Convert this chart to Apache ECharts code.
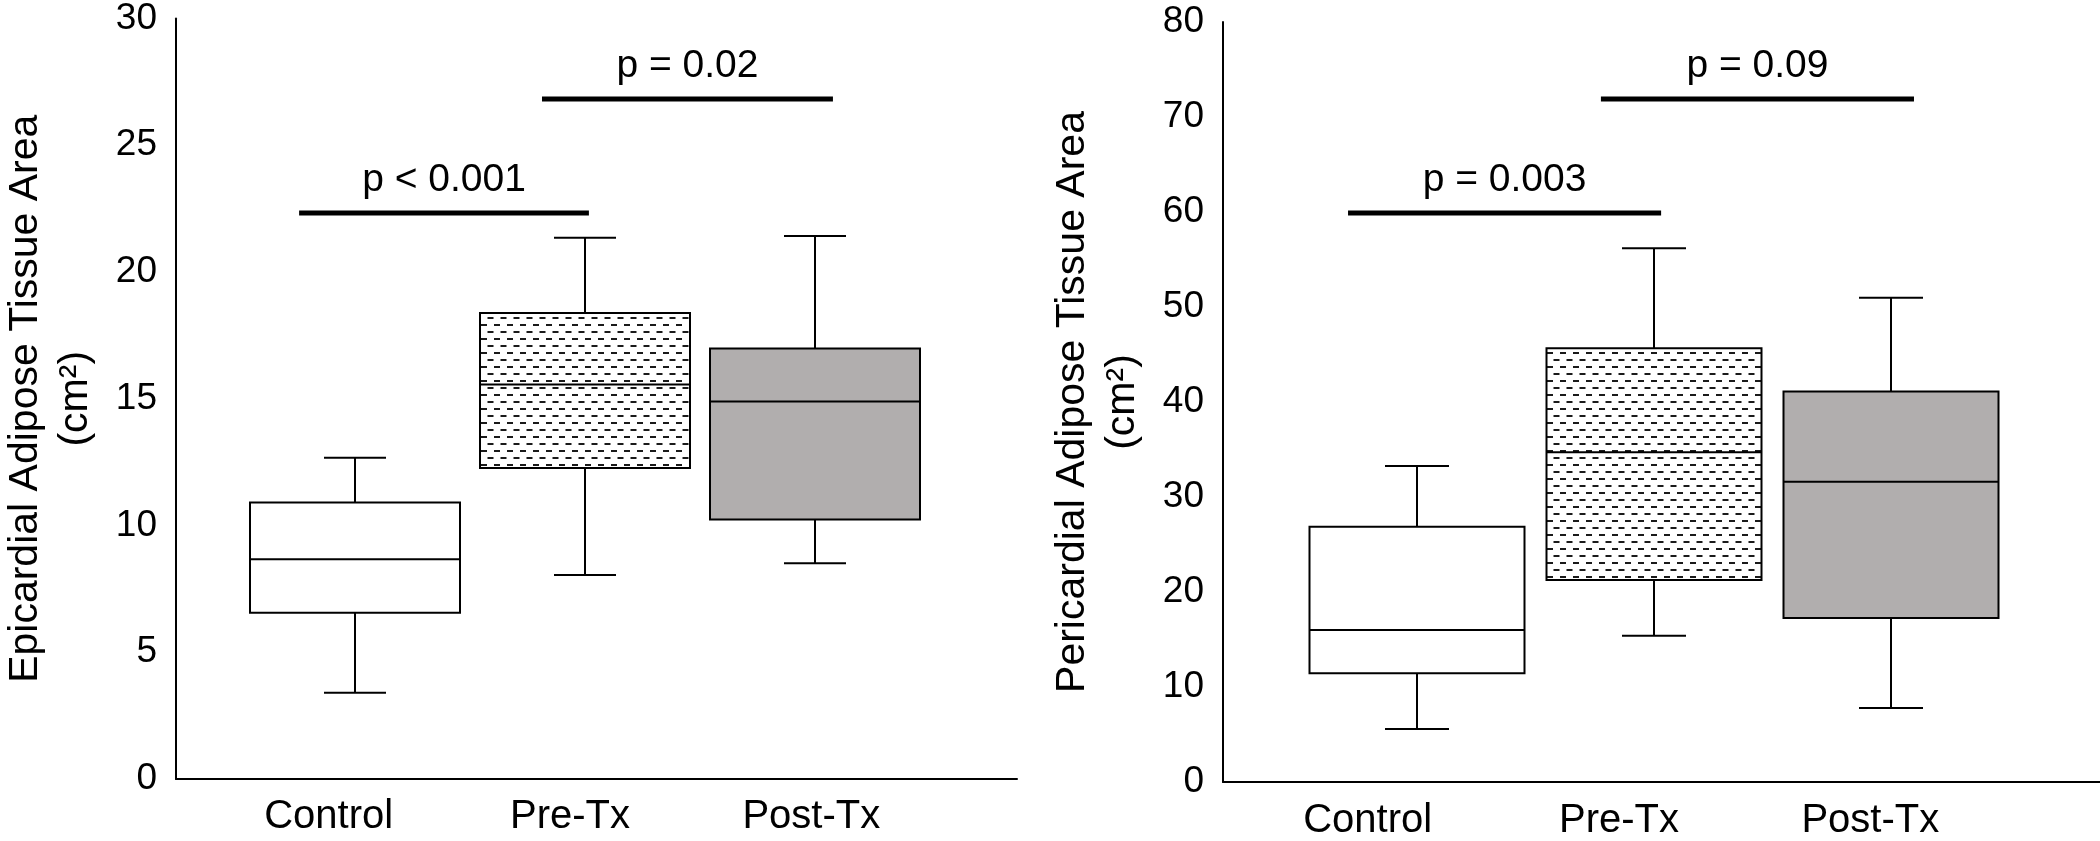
<!DOCTYPE html>
<html>
<head>
<meta charset="utf-8">
<script src="https://cdn.jsdelivr.net/npm/echarts@6/dist/echarts.min.js"></script>
<style>
  html, body { margin: 0; padding: 0; background: #fff; }
  #chart { width: 2100px; height: 841px; }
</style>
</head>
<body>
<div id="chart"></div>
<script>
// ---------------- data ----------------
const categories = ['Control', 'Pre-Tx', 'Post-Tx'];

// Epicardial adipose tissue area (cm2)
const epiMin    = [3.40, 8.03, 8.49];
const epiQ1     = [6.55, 12.24, 10.22];
const epiMedian = [8.65, 15.53, 14.86];
const epiQ3     = [10.89, 18.35, 16.95];
const epiMax    = [12.65, 21.31, 21.38];
const epiYTicks = [0, 5, 10, 15, 20, 25, 30];
const epiSigFrom = [-0.243, 0.813];
const epiSigTo   = [1.017, 2.078];
const epiSigY    = [22.28, 26.77];
const epiSigText = ['p < 0.001', 'p = 0.02'];

// Pericardial adipose tissue area (cm2)
const periMin    = [5.58, 15.40, 7.80];
const periQ1     = [11.44, 21.26, 17.26];
const periMedian = [16.00, 34.70, 31.60];
const periQ3     = [26.87, 45.65, 41.10];
const periMax    = [33.26, 56.18, 50.98];
const periYTicks = [0, 10, 20, 30, 40, 50, 60, 70, 80];
const periSigFrom = [-0.291, 0.776];
const periSigTo   = [1.030, 2.097];
const periSigY    = [59.9, 71.9];
const periSigText = ['p = 0.003', 'p = 0.09'];

const epiTitle = 'Epicardial Adipose Tissue Area\n(cm\u00B2)';
const periTitle = 'Pericardial Adipose Tissue Area\n(cm\u00B2)';

// ---------------- styles ----------------
const FONT = "'Liberation Sans', Arial, Helvetica, sans-serif";
const INK = '#000000';
const GRAY = '#b1aeae';

function makeDashPattern() {
  const c = document.createElement('canvas');
  c.width = 13; c.height = 14;
  const g = c.getContext('2d');
  g.fillStyle = '#ffffff';
  g.fillRect(0, 0, 13, 14);
  g.fillStyle = '#1a1a1a';
  g.fillRect(0, 2, 6, 2);
  g.fillRect(6.5, 9, 6, 2);
  return { image: c, repeat: 'repeat' };
}
const dashPattern = makeDashPattern();
const boxFills = ['#ffffff', dashPattern, GRAY];

function rowsFrom(mins, q1s, meds, q3s, maxs) {
  return categories.map((c, i) => [i, mins[i], q1s[i], meds[i], q3s[i], maxs[i]]);
}
function sigRows(from, to, y) {
  return from.map((f, i) => [f, to[i], y[i], i]);
}

function boxRenderer(boxUnits, capUnits) {
  return function (params, api) {
    const i = api.value(0);
    const pMin = api.coord([i, api.value(1)]);
    const pQ1 = api.coord([i, api.value(2)]);
    const pMed = api.coord([i, api.value(3)]);
    const pQ3 = api.coord([i, api.value(4)]);
    const pMax = api.coord([i, api.value(5)]);
    const x = pMed[0];
    const hw = api.size([boxUnits, 0])[0] / 2;
    const cw = api.size([capUnits, 0])[0] / 2;
    const ls = { stroke: INK, lineWidth: 2 };
    return {
      type: 'group',
      children: [
        { type: 'line', shape: { x1: x, y1: pMax[1], x2: x, y2: pQ3[1] }, style: ls },
        { type: 'line', shape: { x1: x, y1: pQ1[1], x2: x, y2: pMin[1] }, style: ls },
        { type: 'line', shape: { x1: x - cw, y1: pMax[1], x2: x + cw, y2: pMax[1] }, style: ls },
        { type: 'line', shape: { x1: x - cw, y1: pMin[1], x2: x + cw, y2: pMin[1] }, style: ls },
        { type: 'rect', shape: { x: x - hw, y: pQ3[1], width: 2 * hw, height: pQ1[1] - pQ3[1] },
          style: { fill: boxFills[i], stroke: INK, lineWidth: 2 } },
        { type: 'line', shape: { x1: x - hw, y1: pMed[1], x2: x + hw, y2: pMed[1] }, style: ls }
      ]
    };
  };
}

function sigRenderer(texts) {
  return function (params, api) {
    const a = api.coord([api.value(0), api.value(2)]);
    const b = api.coord([api.value(1), api.value(2)]);
    const t = texts[api.value(3)];
    return {
      type: 'group',
      children: [
        { type: 'line', shape: { x1: a[0], y1: a[1], x2: b[0], y2: b[1] },
          style: { stroke: INK, lineWidth: 5 } },
        { type: 'text', style: { text: t, x: (a[0] + b[0]) / 2, y: a[1] - 33,
          align: 'center', verticalAlign: 'middle',
          fontSize: 39, fontFamily: FONT, fill: INK } }
      ]
    };
  };
}

function frameY(gridIndex, ticks, title) {
  return {
    gridIndex: gridIndex, type: 'value',
    min: ticks[0], max: ticks[ticks.length - 1], interval: ticks[1] - ticks[0],
    axisLine: { show: true, onZero: false, lineStyle: { color: INK, width: 2 } },
    axisTick: { show: false }, splitLine: { show: false },
    axisLabel: { fontSize: 37, margin: 19, color: INK, fontFamily: FONT },
    name: title, nameLocation: 'middle', nameRotate: 90, nameGap: 75,
    nameTextStyle: { fontSize: 41, lineHeight: 50, color: INK, fontFamily: FONT }
  };
}
function hiddenY(gridIndex, ticks) {
  return { gridIndex: gridIndex, type: 'value', min: ticks[0], max: ticks[ticks.length - 1], show: false };
}
function frameX(gridIndex) {
  return {
    gridIndex: gridIndex, type: 'value', min: 0, max: 1,
    axisLine: { show: true, onZero: false, lineStyle: { color: INK, width: 2 } },
    axisTick: { show: false }, axisLabel: { show: false }, splitLine: { show: false }
  };
}
function plotX(gridIndex) {
  return { gridIndex: gridIndex, type: 'value', min: -0.5, max: categories.length - 0.5, show: false };
}
function labelX(gridIndex, margin) {
  return {
    gridIndex: gridIndex, type: 'category', data: categories,
    axisLine: { show: false }, axisTick: { show: false }, splitLine: { show: false },
    axisLabel: { fontSize: 40, margin: margin, color: INK, fontFamily: FONT }
  };
}

const chart = echarts.init(document.getElementById('chart'), null, { renderer: 'canvas' });
chart.setOption({
  backgroundColor: '#ffffff',
  animation: false,
  grid: [
    { left: 167, top: 17, width: 850, height: 762 },
    { left: 240, top: 17, width: 690, height: 762 },
    { left: 208, top: 17, width: 724, height: 762 },
    { left: 1223, top: 22, width: 877, height: 760 },
    { left: 1298.5, top: 22, width: 711, height: 760 },
    { left: 1242, top: 22, width: 754, height: 760 }
  ],
  xAxis: [frameX(0), plotX(1), labelX(2, 18), frameX(3), plotX(4), labelX(5, 24)],
  yAxis: [
    frameY(0, epiYTicks, epiTitle), hiddenY(1, epiYTicks), hiddenY(2, epiYTicks),
    frameY(3, periYTicks, periTitle), hiddenY(4, periYTicks), hiddenY(5, periYTicks)
  ],
  series: [
    { type: 'custom', xAxisIndex: 1, yAxisIndex: 1, silent: true, clip: false,
      data: rowsFrom(epiMin, epiQ1, epiMedian, epiQ3, epiMax),
      renderItem: boxRenderer(210 / 230, 62 / 230) },
    { type: 'custom', xAxisIndex: 1, yAxisIndex: 1, silent: true, clip: false,
      data: sigRows(epiSigFrom, epiSigTo, epiSigY),
      renderItem: sigRenderer(epiSigText) },
    { type: 'custom', xAxisIndex: 4, yAxisIndex: 4, silent: true, clip: false,
      data: rowsFrom(periMin, periQ1, periMedian, periQ3, periMax),
      renderItem: boxRenderer(215 / 237, 64 / 237) },
    { type: 'custom', xAxisIndex: 4, yAxisIndex: 4, silent: true, clip: false,
      data: sigRows(periSigFrom, periSigTo, periSigY),
      renderItem: sigRenderer(periSigText) }
  ]
});
</script>
</body>
</html>
